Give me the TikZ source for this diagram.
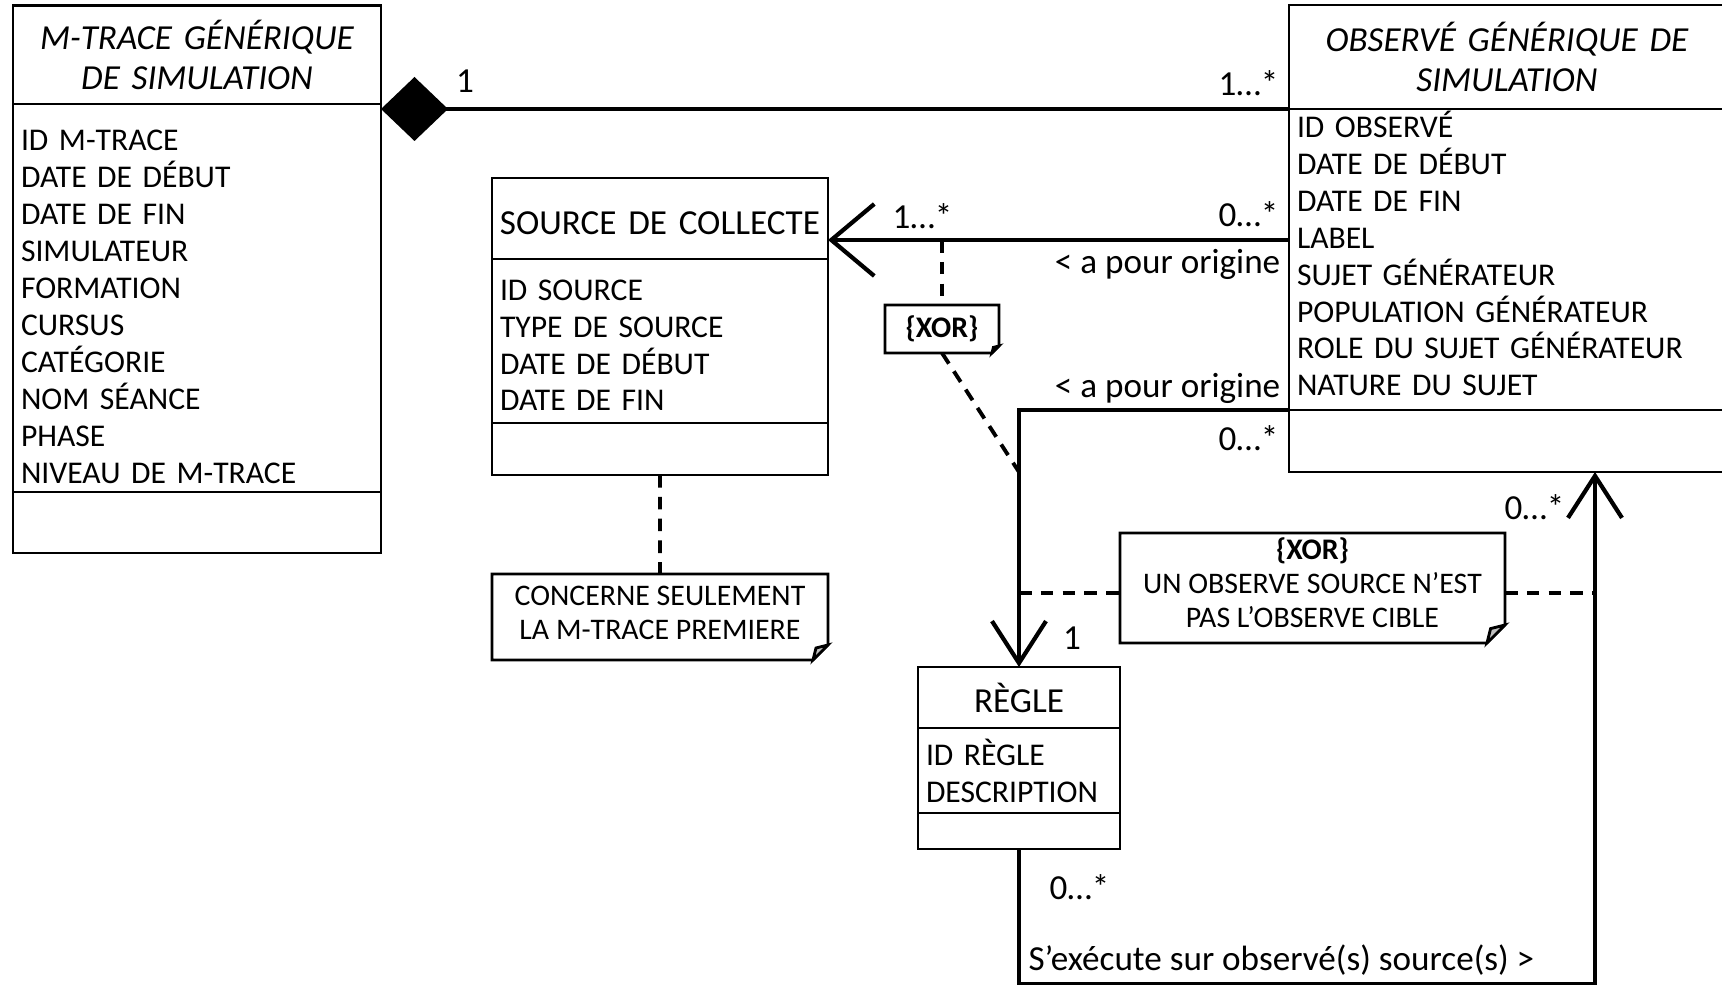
\documentclass[tikz,border=0pt]{standalone}
\usepackage{fontspec}
\setmainfont{Carlito}
\usepackage{tikz}
\usetikzlibrary{positioning,arrows.meta}

\tikzset{
  box/.style={draw, line width=0.8pt, inner xsep=0.08cm, inner ysep=0pt, outer sep=0pt},
  head/.style={box, align=center, font=\fontsize{10}{11.3}\selectfont},
  attr/.style={box, align=left, font=\fontsize{9}{10.5}\selectfont},
  link/.style={line width=1.2pt},
  dep/.style={line width=1.1pt, dash pattern=on 3.6pt off 2.6pt},
  lbl/.style={inner sep=0pt, font=\fontsize{10}{12}\selectfont},
  note/.style={inner sep=0pt, outer sep=0pt, align=center, font=\fontsize{8.5}{9.6}\selectfont},
  notebd/.style={line width=0.8pt},
  barb/.style={-{Straight Barb[length=0.42cm,width=0.54cm]}},
  barbw/.style={-{Straight Barb[length=0.43cm,width=0.72cm]}},
  comp/.style={{Diamond[length=0.67cm,width=0.64cm]}-}
}

% note outline with folded corner: name, fold size (cm)
\newcommand{\notefold}[2]{%
  \draw[notebd] (#1.north west) -- (#1.north east) -- ([yshift=#2cm]#1.south east)
    -- ([xshift=-#2cm]#1.south east) -- (#1.south west) -- cycle;
  \draw[notebd, fill=black!25] ([yshift=#2cm]#1.south east) -- ([xshift=-#2cm]#1.south east)
    -- ([shift={(-0.8*#2,0.8*#2)}]#1.south east) -- cycle;
}

\begin{document}
\begin{tikzpicture}
	\useasboundingbox (0,0) rectangle (17.22,-9.85);
	%Classes
	\node[head, text width=3.52cm, minimum height=0.985cm, anchor=north west,
		font=\fontsize{10}{11.3}\selectfont\itshape] (mtrace-head) at (0.13,-0.055)
		{M-TRACE GÉNÉRIQUE\\DE SIMULATION};
	\node[attr, text width=3.52cm, minimum height=3.88cm, below=0pt of mtrace-head] (mtrace-attr)
		{\rule{0pt}{10.9pt}ID M-TRACE\\DATE DE DÉBUT\\DATE DE FIN\\SIMULATEUR\\FORMATION\\CURSUS\\CATÉGORIE\\NOM SÉANCE\\PHASE\\NIVEAU DE M-TRACE};
	\node[box, text width=3.52cm, minimum height=0.61cm, below=0pt of mtrace-attr] (mtrace-ops) {};

	\node[head, inner xsep=0.03cm, text width=3.30cm, minimum height=0.81cm, anchor=north west] (src-head) at (4.92,-1.78)
		{\rule{0pt}{8.9pt}SOURCE DE COLLECTE};
	\node[attr, text width=3.20cm, minimum height=1.64cm, below=0pt of src-head] (src-attr)
		{\rule{0pt}{8.3pt}ID SOURCE\\TYPE DE SOURCE\\DATE DE DÉBUT\\DATE DE FIN};
	\node[box, text width=3.20cm, minimum height=0.52cm, below=0pt of src-attr] (src-ops) {};

	\node[head, text width=4.20cm, minimum height=1.04cm, anchor=north west,
		font=\fontsize{10}{11.3}\selectfont\itshape] (obs-head) at (12.89,-0.05)
		{OBSERVÉ GÉNÉRIQUE DE\\SIMULATION};
	\node[attr, text width=4.20cm, minimum height=3.01cm, below=0pt of obs-head] (obs-attr)
		{ID OBSERVÉ\\DATE DE DÉBUT\\DATE DE FIN\\LABEL\\SUJET GÉNÉRATEUR\\POPULATION GÉNÉRATEUR\\ROLE DU SUJET GÉNÉRATEUR\\NATURE DU SUJET\rule[-3.4pt]{0pt}{0pt}};
	\node[box, text width=4.20cm, minimum height=0.62cm, below=0pt of obs-attr] (obs-ops) {};

	\node[head, text width=1.86cm, minimum height=0.61cm, anchor=north west] (rule-head) at (9.18,-6.67)
		{RÈGLE};
	\node[attr, text width=1.86cm, minimum height=0.85cm, below=0pt of rule-head] (rule-attr)
		{ID RÈGLE\\DESCRIPTION};
	\node[box, text width=1.86cm, minimum height=0.36cm, below=0pt of rule-attr] (rule-ops) {};

	%Notes
	\node[note, minimum width=3.36cm, minimum height=0.86cm] (note-src) at (6.60,-6.17)
		{CONCERNE SEULEMENT\\LA M-TRACE PREMIERE\rule[-2.5pt]{0pt}{0pt}};
	\node[note, minimum width=1.14cm, minimum height=0.48cm] (xor-a) at (9.42,-3.29)
		{\textbf{\{XOR\}}};
	\node[note, minimum width=3.85cm, minimum height=1.10cm] (xor-b) at (13.125,-5.88)
		{\textbf{\{XOR\}}\\UN OBSERVE SOURCE N’EST\\PAS L’OBSERVE CIBLE\rule[-3.1pt]{0pt}{0pt}};
	\notefold{note-src}{0.15}
	\notefold{xor-a}{0.07}
	\notefold{xor-b}{0.18}

	%Composition
	\draw[link, comp] (mtrace-attr.north east |- obs-head.south west) -- (obs-head.south west);
	\node[lbl, anchor=base] (m-one) at (4.65,-0.93) {1};
	\node[lbl, anchor=base east] (m-obs) at (12.79,-0.96) {1…*};

	%Origin of the source
	\draw[link, barbw] (obs-attr.west |- 0,-2.40) -- (src-head.east |- 0,-2.40);
	\node[lbl, anchor=base west] (m-src) at (8.92,-2.285) {1…*};
	\node[lbl, anchor=base east] (m-obs-src) at (12.79,-2.27) {0…*};
	\node[lbl, anchor=base east] (r-src) at (12.81,-2.74) {< a pour origine};

	%Origin of the rule
	\draw[link, barb] (obs-ops.north west) -| (rule-head.north);
	\node[lbl, anchor=base east] (r-rule) at (12.81,-3.98) {< a pour origine};
	\node[lbl, anchor=base east] (m-obs-rule) at (12.79,-4.51) {0…*};
	\node[lbl, anchor=base] (m-rule) at (10.72,-6.50) {1};

	%Rule runs on source
	\coordinate (exec) at (15.95,-9.84);
	\draw[link, barb] (rule-ops.south) |- (exec) -- (exec |- obs-ops.south);
	\node[lbl, anchor=base west] (m-rule-exec) at (10.49,-9.00) {0…*};
	\node[lbl, anchor=base west] (r-exec) at (10.28,-9.71) {S’exécute sur observé(s) source(s) >};
	\node[lbl, anchor=base east] (m-obs-exec) at (15.65,-5.20) {0…*};

	%Constraints
	\draw[dep] (xor-a.north |- 0,-2.40) -- (xor-a.north);
	\draw[dep] (xor-a.south) -- (rule-head.north |- 0,-4.72);
	\draw[dep] (rule-head.north |- 0,-5.93) -- (xor-b.west |- 0,-5.93);
	\draw[dep] (xor-b.east |- 0,-5.93) -- (exec |- 0,-5.93);
	\draw[dep] (src-ops.south) -- (note-src.north);
\end{tikzpicture}
\end{document}
